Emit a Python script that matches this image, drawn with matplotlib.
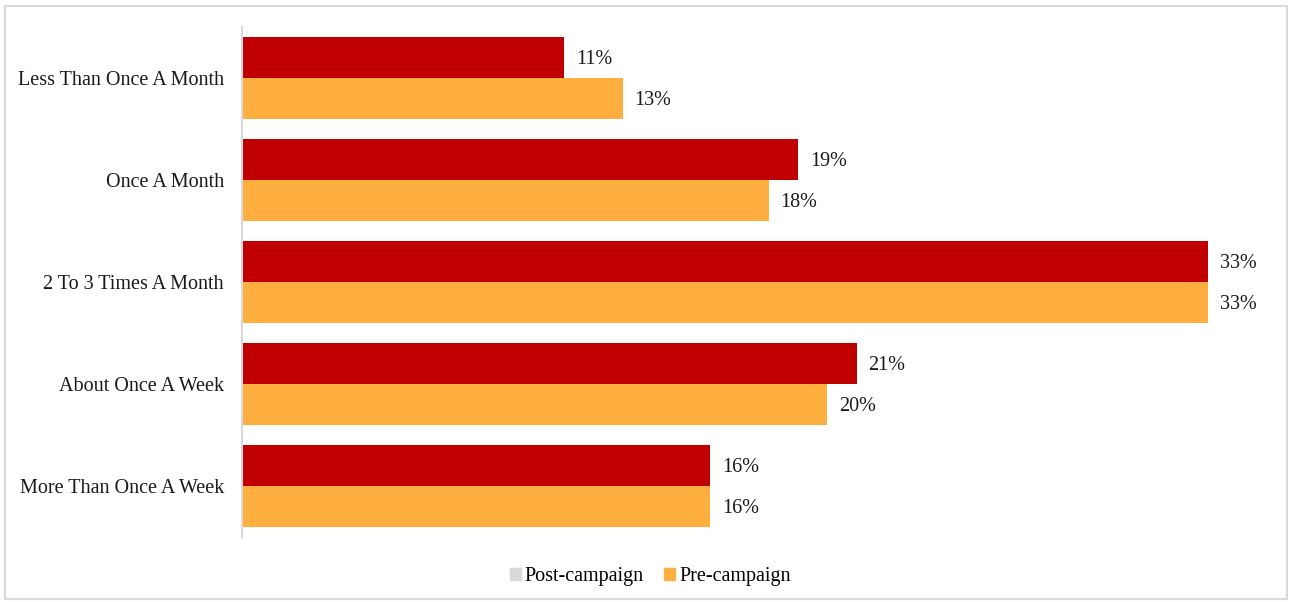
import matplotlib.pyplot as plt
from matplotlib.patches import Patch, Rectangle
import numpy as np

categories = ["Less Than Once A Month", "Once A Month", "2 To 3 Times A Month",
              "About Once A Week", "More Than Once A Week"]
post_campaign = [11, 19, 33, 21, 16]
pre_campaign = [13, 18, 33, 20, 16]

plt.rcParams['font.family'] = ['Liberation Serif', 'DejaVu Serif']

fig = plt.figure(figsize=(12.91, 6.02), dpi=100)
ax = fig.add_axes([242/1291, 1 - 537/602, (1280-242)/1291, 510/602])

y = np.arange(len(categories))
h = 0.4
bars1 = ax.barh(y - h/2, post_campaign, height=h, color="#c00000")
bars2 = ax.barh(y + h/2, pre_campaign, height=h, color="#ffaf3f")

for bars, vals in [(bars1, post_campaign), (bars2, pre_campaign)]:
    for b, v in zip(bars, vals):
        ax.annotate(f"{v}%", (b.get_width(), b.get_y() + b.get_height()/2),
                    xytext=(8.5, -1.5), textcoords="offset points",
                    va="center", ha="left", fontsize=14.5, color="#1a1a1a")

ax.set_ylim(len(categories) - 0.5, -0.5)
ax.set_xlim(0, (1280-242)/((1208-242)/33))
ax.set_yticks(y)
ax.set_yticklabels(categories, fontsize=14.5, color="#1a1a1a")
ax.tick_params(axis='y', length=0, pad=13)
ax.set_xticks([])
for s in ["top", "right", "bottom"]:
    ax.spines[s].set_visible(False)
ax.spines["left"].set_color("#d9d9d9")
ax.spines["left"].set_linewidth(1.5)

handles = [Patch(color="#d9d9d9", label="Post-campaign"),
           Patch(color="#ffaf3f", label="Pre-campaign")]
fig.legend(handles=handles, loc="center", bbox_to_anchor=(650/1291, 1 - 577/602),
           ncol=2, frameon=False, fontsize=14.5, handlelength=0.55, handleheight=0.55,
           handletextpad=0.2, columnspacing=1.0)

fig.patches.append(Rectangle((5/1291, 3/602), 1282/1291, 593/602, transform=fig.transFigure,
                             fill=False, edgecolor="#d9d9d9", linewidth=1.5))

fig.savefig("out.png", dpi=100)
